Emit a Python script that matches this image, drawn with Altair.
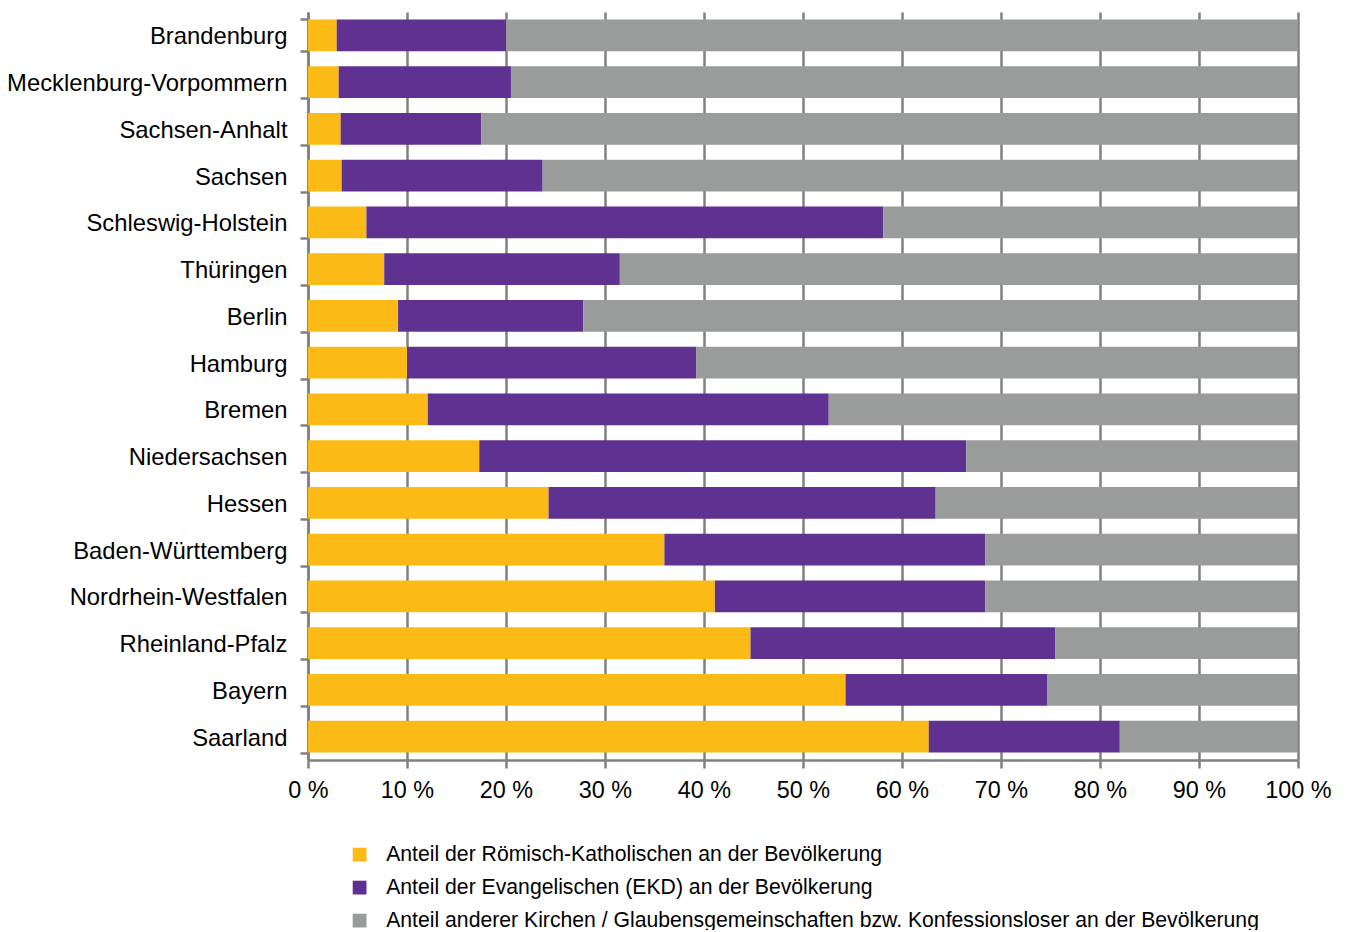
import altair as alt
import pandas as pd

states = ["Brandenburg", "Mecklenburg-Vorpommern", "Sachsen-Anhalt", "Sachsen",
          "Schleswig-Holstein", "Thüringen", "Berlin", "Hamburg", "Bremen",
          "Niedersachsen", "Hessen", "Baden-Württemberg", "Nordrhein-Westfalen",
          "Rheinland-Pfalz", "Bayern", "Saarland"]
katholisch = [2.9, 3.1, 3.3, 3.4, 5.9, 7.7, 9.1, 10.0, 12.1, 17.3, 24.3, 36.0, 41.1, 44.7, 54.3, 62.7]
evangelisch = [17.1, 17.4, 14.2, 20.3, 52.2, 23.8, 18.7, 29.2, 40.5, 49.2, 39.1, 32.4, 27.3, 30.8, 20.4, 19.3]
andere = [80.0, 79.5, 82.5, 76.3, 41.9, 68.5, 72.2, 60.8, 47.4, 33.5, 36.6, 31.6, 31.6, 24.5, 25.3, 18.0]

series = ["Anteil der Römisch-Katholischen an der Bevölkerung",
          "Anteil der Evangelischen (EKD) an der Bevölkerung",
          "Anteil anderer Kirchen / Glaubensgemeinschaften bzw. Konfessionsloser an der Bevölkerung"]
colors = ["#FBBA16", "#5F3190", "#9A9C9C"]
x_ticks = [0, 10, 20, 30, 40, 50, 60, 70, 80, 90, 100]

rows = []
for i, s in enumerate(states):
    for j, vals in enumerate([katholisch, evangelisch, andere]):
        rows.append({"Land": s, "Gruppe": series[j], "Wert": vals[i], "ord": j})
df = pd.DataFrame(rows)

FONT = "Liberation Sans"
GRAY = "#808080"

chart = alt.Chart(df).mark_bar().encode(
    y=alt.Y("Land:N", sort=states, title=None,
            scale=alt.Scale(paddingInner=0.32, paddingOuter=0.16),
            axis=alt.Axis(tickBand="extent", tickSize=8, tickWidth=2.5, tickColor=GRAY,
                          domainColor=GRAY, domainWidth=2.5, labelFontSize=23.8,
                          labelFont=FONT, labelColor="#000000", labelPadding=13,
                          labelOffset=1.5, grid=False, labelLimit=400)),
    x=alt.X("Wert:Q", stack="zero", title=None,
            scale=alt.Scale(domain=[0, 100], nice=False),
            axis=alt.Axis(values=x_ticks, labelExpr="datum.value + ' %'",
                          tickSize=8, tickWidth=2.5, tickColor=GRAY,
                          domainColor=GRAY, domainWidth=2.5, grid=True,
                          gridColor=GRAY, gridWidth=2.5, gridOpacity=1,
                          labelFontSize=23.4, labelFont=FONT, labelColor="#000000",
                          labelPadding=11, labelFlush=False)),
    color=alt.Color("Gruppe:N", sort=series,
                    scale=alt.Scale(domain=series, range=colors),
                    legend=alt.Legend(title=None, orient="none", legendX=41, legendY=832,
                                      symbolType="square", symbolSize=190,
                                      symbolStrokeWidth=0, symbolOpacity=1,
                                      labelFontSize=21.2, labelFont=FONT,
                                      labelColor="#000000", labelLimit=1100,
                                      rowPadding=11, labelOffset=16)),
    order=alt.Order("ord:Q"),
).properties(
    width=990, height=748,
    autosize=alt.AutoSizeParams(type="none"),
    padding={"left": 300, "top": 4, "right": 40, "bottom": 170},
).configure_view(stroke=None)

chart.save("out.html", embed_options={"renderer": "svg", "actions": False})
